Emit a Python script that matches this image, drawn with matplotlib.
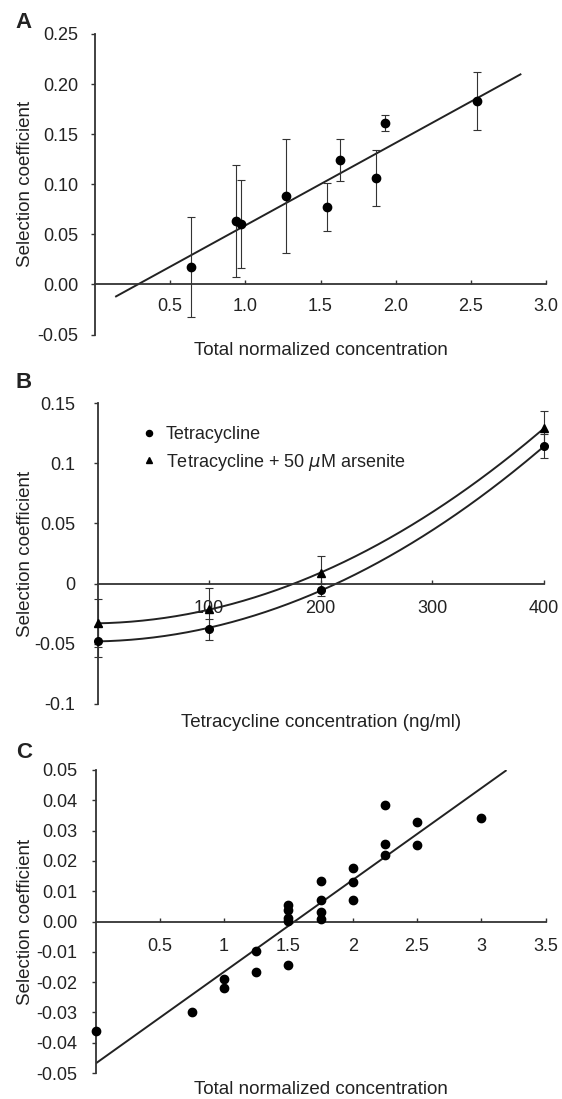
import matplotlib
matplotlib.use("Agg")
import matplotlib.pyplot as plt
import numpy as np

plt.rcParams['font.family'] = ['Liberation Sans', 'DejaVu Sans']
TXT = '#222222'
FS = 13

# ---------------- Panel A data ----------------
a_x = [0.64, 0.935, 0.97, 1.27, 1.54, 1.63, 1.87, 1.93, 2.54]
a_y = [0.017, 0.063, 0.060, 0.088, 0.077, 0.124, 0.106, 0.161, 0.183]
a_err = [0.050, 0.056, 0.044, 0.057, 0.024, 0.021, 0.028, 0.008, 0.029]
a_fit_slope = 0.0824
a_fit_intercept = -0.0235
a_fit_xrange = [0.14, 2.83]
a_yticks = [-0.05, 0.00, 0.05, 0.10, 0.15, 0.20, 0.25]
a_yticklabels = ['-0.05', '0.00', '0.05', '0.10', '0.15', '0.20', '0.25']
a_xticks = [0.5, 1.0, 1.5, 2.0, 2.5, 3.0]
a_xticklabels = ['0.5', '1.0', '1.5', '2.0', '2.5', '3.0']

# ---------------- Panel B data ----------------
b_x = [0, 100, 200, 400]
b_tet_y = [-0.048, -0.038, -0.005, 0.114]
b_tet_err = [0.013, 0.009, 0.005, 0.010]
b_ars_y = [-0.033, -0.021, 0.009, 0.129]
b_ars_err = [0.020, 0.017, 0.014, 0.014]
b_tet_fit = [9.715e-7, 1.64e-5, -0.048]   # quadratic coefficients
b_ars_fit = [9.71e-7, 1.66e-5, -0.033]
b_yticks = [-0.1, -0.05, 0, 0.05, 0.1, 0.15]
b_yticklabels = ['-0.1', '-0.05', '0', '0.05', '0.1', '0.15']
b_xticks = [100, 200, 300, 400]
b_xticklabels = ['100', '200', '300', '400']

# ---------------- Panel C data ----------------
c_x = [0.0, 0.75, 1.0, 1.0, 1.25, 1.25, 1.5, 1.5, 1.5, 1.5, 1.5,
       1.75, 1.75, 1.75, 1.75, 2.0, 2.0, 2.0, 2.25, 2.25, 2.25, 2.5, 2.5, 3.0]
c_y = [-0.036, -0.030, -0.019, -0.022, -0.0096, -0.0168, -0.0145, 0.0053, 0.0038, 0.0012, 0.0001,
       0.0135, 0.0072, 0.0033, 0.0007, 0.0175, 0.0129, 0.0072, 0.0383, 0.0257, 0.0218, 0.0327, 0.0251, 0.0343]
c_fit_slope = 0.0303
c_fit_intercept = -0.0469
c_fit_xrange = [0.0, 3.19]
c_yticks = [-0.05, -0.04, -0.03, -0.02, -0.01, 0.0, 0.01, 0.02, 0.03, 0.04, 0.05]
c_yticklabels = ['-0.05', '-0.04', '-0.03', '-0.02', '-0.01', '0.00', '0.01', '0.02', '0.03', '0.04', '0.05']
c_xticks = [0.5, 1, 1.5, 2, 2.5, 3, 3.5]
c_xticklabels = ['0.5', '1', '1.5', '2', '2.5', '3', '3.5']

W, H = 562, 1099
fig = plt.figure(figsize=(W / 100, H / 100), dpi=100)


def px_axes(left, right, top, bottom):
    return fig.add_axes([left / W, 1 - bottom / H, (right - left) / W, (bottom - top) / H])


def style(ax, xlim, ylim, xticks, xtl, yticks, ytl, xpad, ypad, xlabel, xlab_y, ylab_x):
    ax.set_xlim(*xlim)
    ax.set_ylim(*ylim)
    for s in ['top', 'right']:
        ax.spines[s].set_visible(False)
    ax.spines['bottom'].set_position(('data', 0))
    for s in ['bottom', 'left']:
        ax.spines[s].set_linewidth(1.3)
        ax.spines[s].set_color('#333333')
    ax.set_xticks(xticks)
    ax.set_xticklabels(xtl)
    ax.set_yticks(yticks)
    ax.set_yticklabels(ytl)
    ax.tick_params(axis='x', direction='in', length=3, width=1, pad=xpad,
                   labelsize=FS, colors='#333333', labelcolor=TXT)
    ax.tick_params(axis='y', direction='out', length=3, width=1, pad=ypad,
                   labelsize=FS, colors='#333333', labelcolor=TXT)
    ax.set_xlabel(xlabel, fontsize=13.5, color=TXT, va='center')
    ax.xaxis.set_label_coords(0.5, xlab_y)
    ax.set_ylabel('Selection coefficient', fontsize=13.5, color=TXT, va='center')
    ax.yaxis.set_label_coords(ylab_x, 0.5)
    ax.patch.set_alpha(0)


eb_kw = dict(ecolor='#333333', elinewidth=0.8, capsize=2.6, capthick=0.8, zorder=3)

# ---------------- Panel A ----------------
axA = px_axes(95, 546, 34, 334.5)
xs = np.linspace(a_fit_xrange[0], a_fit_xrange[1], 50)
axA.plot(xs, a_fit_slope * xs + a_fit_intercept, color='#222222', lw=1.4, zorder=2)
axA.errorbar(a_x, a_y, yerr=a_err, fmt='o', color='black', ms=6, **eb_kw)
style(axA, (0, 3.0), (-0.05, 0.25), a_xticks, a_xticklabels, a_yticks, a_yticklabels,
      10, 9, 'Total normalized concentration', -0.052, -0.155)

# ---------------- Panel B ----------------
axB = px_axes(97.5, 544, 403, 704)
xs = np.linspace(0, 400, 200)
axB.plot(xs, np.polyval(b_ars_fit, xs), color='#222222', lw=1.4, zorder=2)
axB.plot(xs, np.polyval(b_tet_fit, xs), color='#222222', lw=1.4, zorder=2)
h1 = axB.errorbar(b_x, b_tet_y, yerr=b_tet_err, fmt='o', color='black', ms=5.5,
                  clip_on=False, **eb_kw)
h2 = axB.errorbar(b_x, b_ars_y, yerr=b_ars_err, fmt='^', color='black', ms=5.5,
                  clip_on=False, **eb_kw)
style(axB, (0, 400), (-0.1, 0.15), b_xticks, b_xticklabels, b_yticks, b_yticklabels,
      12, 13, 'Tetracycline concentration (ng/ml)', -0.063, -0.161)
leg = axB.legend([h1[0], h2[0]], ['Tetracycline', 'Tetracycline + 50 $\\mu$M arsenite'],
                 loc='upper left', bbox_to_anchor=(0.08, 0.952), frameon=False,
                 fontsize=FS, handlelength=0.8, handletextpad=0.5, borderpad=0,
                 labelspacing=0.45, markerscale=0.8)
for t in leg.get_texts():
    t.set_color(TXT)

# ---------------- Panel C ----------------
axC = px_axes(95.5, 545.6, 770, 1073)
xs = np.linspace(c_fit_xrange[0], c_fit_xrange[1], 50)
axC.plot(xs, c_fit_slope * xs + c_fit_intercept, color='#222222', lw=1.4, zorder=2)
axC.plot(c_x, c_y, 'o', color='black', ms=6, zorder=3, clip_on=False)
style(axC, (0, 3.5), (-0.05, 0.05), c_xticks, c_xticklabels, c_yticks, c_yticklabels,
      12, 10, 'Total normalized concentration', -0.056, -0.156)

# panel letters
for lab, y in [('A', 22), ('B', 382), ('C', 753)]:
    fig.text(24 / W, 1 - y / H, lab, fontsize=16, fontweight='bold', color=TXT,
             ha='center', va='center')

fig.savefig('out.png', dpi=100)
